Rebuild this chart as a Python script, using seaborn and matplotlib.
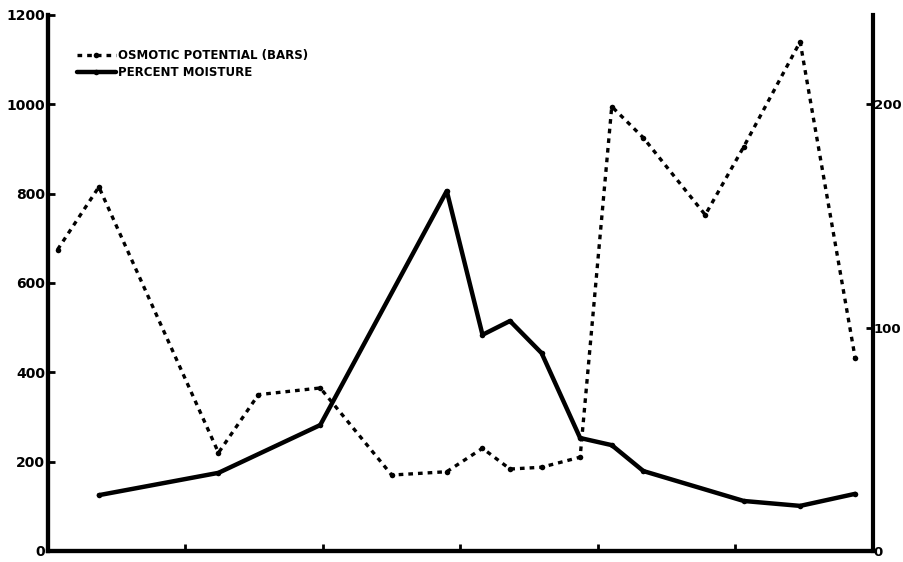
import numpy as np
import pandas as pd
import matplotlib
matplotlib.use("Agg")
import matplotlib.pyplot as plt
import seaborn as sns

# ---------------------------
# Data (x = sampling position along the unlabeled time axis)
# ---------------------------
osm_x = [0.07, 0.37, 1.24, 1.53, 1.98, 2.50, 2.90, 3.16, 3.36, 3.59, 3.87, 4.10, 4.33, 4.78, 5.06, 5.47, 5.87]
osm_bars = [135, 163, 44, 70, 73, 34, 35.5, 46, 36.7, 37.5, 42, 199, 185, 150.5, 181, 228, 86.5]

moist_x = [0.37, 1.24, 1.98, 2.90, 3.16, 3.36, 3.59, 3.87, 4.10, 4.33, 5.06, 5.47, 5.87]
moist_pct = [125, 175, 282, 806, 484, 515, 443, 253, 237, 179, 112, 101, 128]

left_ticks = [0, 200, 400, 600, 800, 1000, 1200]
right_ticks = [0, 100, 200]
x_ticks = [1, 2, 3, 4, 5]

df_osm = pd.DataFrame({"x": osm_x, "osmotic": osm_bars})
df_moist = pd.DataFrame({"x": moist_x, "moisture": moist_pct})

sns.set_style("ticks")
plt.rcParams["font.family"] = ["DejaVu Sans"]
plt.rcParams["font.weight"] = "bold"
plt.rcParams["text.color"] = "black"
plt.rcParams["xtick.color"] = "black"
plt.rcParams["ytick.color"] = "black"
plt.rcParams["axes.edgecolor"] = "black"

fig = plt.figure(figsize=(9.04, 5.62), dpi=100)
ax = fig.add_axes([48 / 904, 11 / 562, 825 / 904, 536 / 562])
ax2 = ax.twinx()

# percent moisture on the left scale
sns.lineplot(data=df_moist, x="x", y="moisture", ax=ax, color="black", lw=3.2,
             marker="o", markersize=4, markeredgewidth=0, label="PERCENT MOISTURE",
             legend=False)
# osmotic potential on the right scale
sns.lineplot(data=df_osm, x="x", y="osmotic", ax=ax2, color="black", lw=2.4,
             linestyle=(0, (1.4, 1.5)), marker="o", markersize=4, markeredgewidth=0,
             label="OSMOTIC POTENTIAL (BARS)", legend=False)

ax.set_xlim(0, 6)
ax.set_ylim(0, 1200)
ax2.set_ylim(0, 240)
ax.set_xticks(x_ticks)
ax.set_xticklabels([])
ax.set_yticks(left_ticks)
ax2.set_yticks(right_ticks)
ax.set_xlabel("")
ax.set_ylabel("")
ax2.set_ylabel("")

for a in (ax, ax2):
    a.spines["top"].set_visible(False)
    for s in ("left", "right", "bottom"):
        a.spines[s].set_linewidth(3)
        a.spines[s].set_color("black")
ax.spines["right"].set_visible(False)

ax.tick_params(axis="both", direction="in", length=5, width=2, labelsize=10, pad=2)
ax2.tick_params(axis="y", direction="in", length=5, width=2, labelsize=9.5, pad=0.5)

h1, l1 = ax2.get_legend_handles_labels()
h2, l2 = ax.get_legend_handles_labels()
leg = ax.legend(h1 + h2, l1 + l2, loc="upper left", bbox_to_anchor=(0.029, 0.945),
                frameon=False, fontsize=8.5, handlelength=3.3, handletextpad=0.2,
                labelspacing=0.3, borderaxespad=0)
ax.set_zorder(ax2.get_zorder() + 1)
ax.patch.set_visible(False)

fig.savefig("out.png", dpi=100)
